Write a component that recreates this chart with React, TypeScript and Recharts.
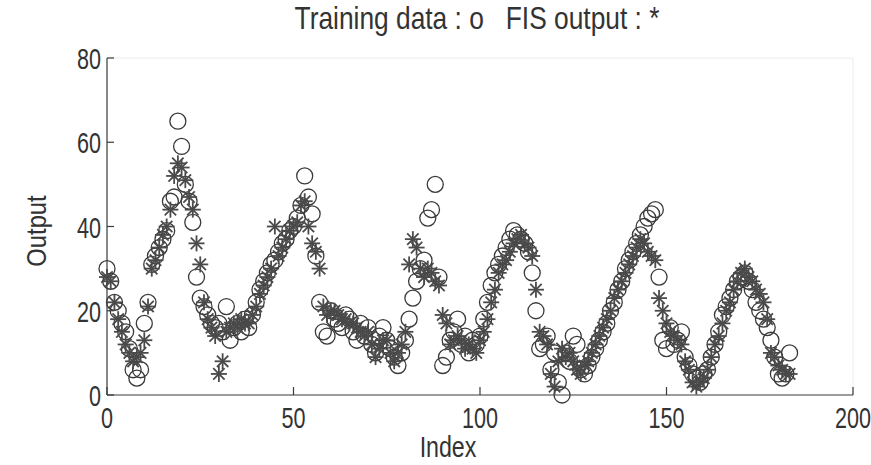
import React from "react";
import { ReferenceLine, Scatter, ScatterChart, XAxis, YAxis } from "recharts";

// ── data (index = position in array) ────────────────────────────────
const TRAINING_DATA = [
	30, 27, 22, 20, 17, 15, 11, 6, 4, 6,
	17, 22, 31, 33, 35, 37, 39, 46, 47, 65,
	59, 50, 46, 41, 28, 23, 21, 19, 17, 16,
	17, 15, 21, 13, 16, 17, 15, 18, 16, 19,
	22, 25, 27, 29, 31, 32, 34, 36, 37, 39,
	40, 42, 45, 52, 47, 43, 33, 22, 15, 14,
	20, 18, 17, 16, 19, 18, 15, 13, 17, 14,
	16, 12, 10, 14, 16, 13, 11, 9, 7, 10,
	13, 18, 23, 27, 30, 32, 42, 44, 50, 28,
	7, 9, 13, 15, 18, 12, 14, 10, 13, 12,
	14, 18, 22, 26, 29, 31, 33, 35, 37, 39,
	38, 37, 36, 34, 29, 20, 11, 12, 14, 6,
	10, 3, 0, 10, 8, 14, 12, 6, 5, 7,
	9, 11, 13, 15, 17, 20, 22, 25, 27, 30,
	32, 34, 36, 38, 40, 42, 43, 44, 28, 13,
	11, 16, 12, 13, 15, 9, 7, 5, 4, 3,
	5, 6, 9, 12, 15, 19, 21, 23, 25, 27,
	28, 29, 27, 25, 22, 20, 18, 16, 13, 9,
	5, 4, 5, 10,
];

const FIS_OUTPUT = [
	28, 27, 22, 18, 15, 12, 10, 8, 9, 10,
	13, 21, 30, 32, 35, 38, 40, 44, 52, 55,
	54, 51, 47, 44, 36, 31, 22, 18, 16, 14,
	5, 8, 15, 16, 17, 16, 18, 17, 17, 19,
	21, 24, 26, 28, 30, 40, 33, 35, 37, 39,
	40, 41, 45, 46, 40, 36, 34, 30, 21, 19,
	20, 20, 19, 18, 18, 17, 17, 16, 15, 14,
	15, 12, 9, 11, 13, 13, 10, 8, 10, 12,
	15, 31, 37, 35, 30, 28, 30, 29, 27, 26,
	19, 17, 12, 13, 14, 13, 11, 12, 11, 10,
	13, 15, 18, 22, 25, 29, 31, 32, 34, 36,
	37, 38, 36, 35, 33, 25, 15, 14, 12, 5,
	2, 8, 11, 9, 10, 8, 6, 5, 7, 8,
	10, 12, 14, 16, 18, 20, 23, 25, 27, 29,
	31, 33, 35, 37, 36, 34, 33, 32, 23, 20,
	17, 15, 14, 13, 12, 8, 6, 3, 2, 3,
	4, 6, 9, 12, 14, 17, 20, 22, 25, 27,
	29, 30, 28, 27, 25, 24, 22, 18, 10, 9,
	7, 6, 5, 5,
];

const INDEX_TICKS = [0, 50, 100, 150, 200];
const OUTPUT_TICKS = [0, 20, 40, 60, 80];

const trainingPoints = TRAINING_DATA.map((v, i) => ({ x: i, y: v }));
const fisPoints = FIS_OUTPUT.map((v, i) => ({ x: i, y: v }));

const AXIS_COLOR = "#3a3a3a";
const TEXT_COLOR = "#333";
const MARK_COLOR = "#3a3a3a";
const STAR_COLOR = "#4a4a4a";
const FONT = "'Liberation Sans', Arial, sans-serif";

// ── marker shapes ─────────────────────────────────────────────────
function RingMark({ cx, cy }: { cx?: number; cy?: number }) {
	if (cx == null || cy == null) return null;
	return <circle cx={cx} cy={cy} r={8} fill="none" stroke={MARK_COLOR} strokeWidth={1.3} />;
}

function StarMark({ cx, cy }: { cx?: number; cy?: number }) {
	if (cx == null || cy == null) return null;
	const a = 8;
	const d = 5.7;
	return (
		<g stroke={STAR_COLOR} strokeWidth={1.8}>
			<line x1={cx - a} y1={cy} x2={cx + a} y2={cy} />
			<line x1={cx} y1={cy - a} x2={cx} y2={cy + a} />
			<line x1={cx - d} y1={cy - d} x2={cx + d} y2={cy + d} />
			<line x1={cx - d} y1={cy + d} x2={cx + d} y2={cy - d} />
		</g>
	);
}

// ── ticks (matlab style, pointing inwards) ─────────────────────────
function IndexTick({ x, y, payload }: any) {
	return (
		<g>
			<line x1={x} y1={y} x2={x} y2={y - 8} stroke={AXIS_COLOR} strokeWidth={1.2} />
			<text
				transform={`translate(${x},${y + 33}) scale(0.72,1)`}
				textAnchor="middle"
				fontSize={30}
				fontFamily={FONT}
				fill={TEXT_COLOR}
			>
				{payload.value}
			</text>
		</g>
	);
}

function OutputTick({ x, y, payload }: any) {
	return (
		<g>
			<line x1={x} y1={y} x2={x + 7} y2={y} stroke={AXIS_COLOR} strokeWidth={1.2} />
			<text
				transform={`translate(${x - 6},${y + 11}) scale(0.72,1)`}
				textAnchor="end"
				fontSize={30}
				fontFamily={FONT}
				fill={TEXT_COLOR}
			>
				{payload.value}
			</text>
		</g>
	);
}

export default function App() {
	return (
		<div style={{ position: "relative", width: 871, height: 465, background: "#fff", fontFamily: FONT }}>
			<style>{"body{margin:0}"}</style>
			<ScatterChart width={871} height={465} margin={{ top: 58, right: 18, bottom: 0, left: 0 }}>
				<XAxis
					type="number"
					dataKey="x"
					domain={[0, 200]}
					ticks={INDEX_TICKS}
					height={70}
					tickSize={0}
					tickMargin={0}
					tick={<IndexTick />}
					axisLine={{ stroke: AXIS_COLOR, strokeWidth: 1.2 }}
					tickLine={false}
				/>
				<YAxis
					type="number"
					dataKey="y"
					domain={[0, 80]}
					ticks={OUTPUT_TICKS}
					width={107}
					tickSize={0}
					tickMargin={0}
					tick={<OutputTick />}
					axisLine={{ stroke: AXIS_COLOR, strokeWidth: 1.2 }}
					tickLine={false}
				/>
				<ReferenceLine y={80} stroke="#ececec" />
				<ReferenceLine x={200} stroke="#ececec" />
				<Scatter data={trainingPoints} shape={<RingMark />} isAnimationActive={false} />
				<Scatter data={fisPoints} shape={<StarMark />} isAnimationActive={false} />
			</ScatterChart>
			<svg width={871} height={465} style={{ position: "absolute", left: 0, top: 0, pointerEvents: "none" }}>
				<text
					transform="translate(477,29) scale(0.85,1)"
					textAnchor="middle"
					fontSize={31}
					fontFamily={FONT}
					fill={TEXT_COLOR}
				>
					Training data : o&#160;&#160;&#160;FIS output : *
				</text>
				<text
					transform="translate(448,457) scale(0.8,1)"
					textAnchor="middle"
					fontSize={29}
					fontFamily={FONT}
					fill={TEXT_COLOR}
				>
					Index
				</text>
				<text
					transform="translate(46,231) rotate(-90) scale(0.85,1)"
					textAnchor="middle"
					fontSize={28}
					fontFamily={FONT}
					fill={TEXT_COLOR}
				>
					Output
				</text>
			</svg>
		</div>
	);
}
